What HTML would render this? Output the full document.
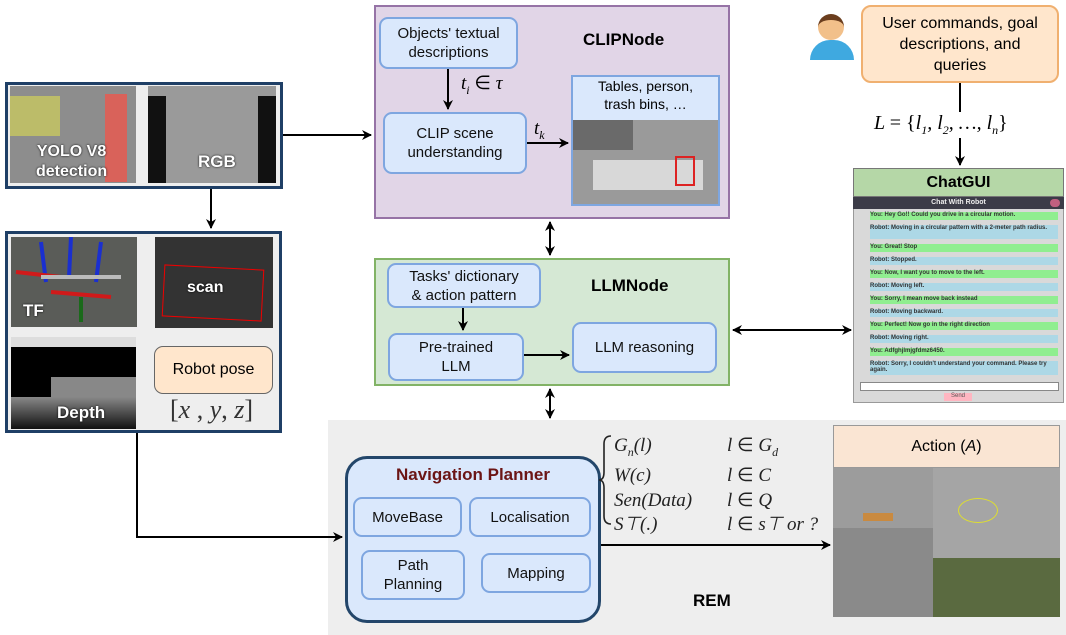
<!DOCTYPE html>
<html><head><meta charset="utf-8"><style>
body{margin:0;width:1066px;height:635px;position:relative;background:#fff;font-family:"Liberation Sans",sans-serif;overflow:hidden}
.a{position:absolute;box-sizing:border-box}
.bl{background:#dae8fc;border:2px solid #7ea6e0;border-radius:9px;display:flex;align-items:center;justify-content:center;text-align:center;font-size:15px;color:#111;line-height:19px}
.m{font-family:"Liberation Serif",serif;font-style:italic}
.lbl{color:#fff;font-weight:bold;font-size:16px;text-shadow:0 0 2px #000}
</style></head><body>
<div class="a" style="left:328px;top:420px;width:738px;height:215px;background:#eeeeee"></div>
<div class="a" style="left:374px;top:5px;width:356px;height:214px;background:#e1d5e7;border:2px solid #9673a6"></div>
<div class="a" style="left:583px;top:30px;font-weight:bold;font-size:17px">CLIPNode</div>
<div class="a bl" style="left:379px;top:17px;width:139px;height:52px">Objects' textual descriptions</div>
<div class="a m" style="left:461px;top:72px;font-size:19px">t<sub style="font-size:12px">i</sub> <span style="font-style:normal">∈</span> τ</div>
<div class="a bl" style="left:383px;top:112px;width:144px;height:62px">CLIP scene understanding</div>
<div class="a m" style="left:534px;top:118px;font-size:19px">t<sub style="font-size:12px">k</sub></div>
<div class="a" style="left:571px;top:75px;width:149px;height:131px;border:2px solid #7ea6e0;background:#dae8fc"></div>
<div class="a" style="left:571px;top:77px;width:149px;text-align:center;font-size:14px;line-height:18px">Tables, person,<br>trash bins, …</div>
<div class="a" style="left:573px;top:120px;width:145px;height:84px;background:#9a9a9a">
<div class="a" style="left:20px;top:40px;width:110px;height:30px;background:#d8d8d8"></div>
<div class="a" style="left:102px;top:36px;width:20px;height:30px;border:2px solid #d22"></div>
<div class="a" style="left:0;top:0;width:60px;height:30px;background:#6a6a6a"></div></div>
<div class="a" style="left:374px;top:258px;width:356px;height:128px;background:#d5e8d4;border:2px solid #82b366"></div>
<div class="a" style="left:591px;top:276px;font-weight:bold;font-size:17px">LLMNode</div>
<div class="a bl" style="left:387px;top:263px;width:154px;height:45px">Tasks' dictionary<br>&amp; action pattern</div>
<div class="a bl" style="left:388px;top:333px;width:136px;height:48px">Pre-trained<br>LLM</div>
<div class="a bl" style="left:572px;top:322px;width:145px;height:51px">LLM reasoning</div>
<div class="a" style="left:818px;top:14px;width:26px;height:26px;border-radius:50%;background:#f2c08a;border-top:6px solid #6b3e1e"></div>
<div class="a" style="left:810px;top:40px;width:44px;height:20px;border-radius:20px 20px 0 0;background:#3fa9e0"></div>
<div class="a" style="left:861px;top:5px;width:198px;height:78px;background:#ffe6cc;border:2px solid #f0b070;border-radius:10px;display:flex;align-items:center;justify-content:center;text-align:center;font-size:16px;line-height:21px;padding:0 12px">User commands, goal descriptions, and queries</div>
<div class="a m" style="left:874px;top:112px;font-size:20px"><span style="font-style:italic">L</span> <span style="font-style:normal">=</span> <span style="font-style:normal">{</span>l<sub style="font-size:12px">1</sub>, l<sub style="font-size:12px">2</sub>, …, l<sub style="font-size:12px">n</sub><span style="font-style:normal">}</span></div>
<div class="a" style="left:853px;top:168px;width:211px;height:235px;background:#d9d9d9;border:1px solid #999"></div>
<div class="a" style="left:853px;top:168px;width:211px;height:29px;background:#b5d7a7;border:1px solid #777;text-align:center;font-weight:bold;font-size:16px;line-height:28px">ChatGUI</div>
<div class="a" style="left:853px;top:197px;width:211px;height:12px;background:#3c3c48;color:#eee;font-size:7px;text-align:center;line-height:12px;font-weight:bold">Chat With Robot</div>
<div class="a" style="left:1050px;top:199px;width:10px;height:8px;border-radius:4px;background:#c06080"></div>
<div class="a" style="left:860px;top:212px;width:198px;font-size:6px;font-weight:bold;color:#333">
<div style="background:#90ee90;margin:0 0 5px 10px;height:8px">You: Hey Go!! Could you drive in a circular motion.</div>
<div style="background:#add8e6;margin:0 0 5px 10px;height:14px">Robot: Moving in a circular pattern with a 2-meter path radius.</div>
<div style="background:#90ee90;margin:0 0 5px 10px;height:8px">You: Great! Stop</div>
<div style="background:#add8e6;margin:0 0 5px 10px;height:8px">Robot: Stopped.</div>
<div style="background:#90ee90;margin:0 0 5px 10px;height:8px">You: Now, I want you to move to the left.</div>
<div style="background:#add8e6;margin:0 0 5px 10px;height:8px">Robot: Moving left.</div>
<div style="background:#90ee90;margin:0 0 5px 10px;height:8px">You: Sorry, I mean move back instead</div>
<div style="background:#add8e6;margin:0 0 5px 10px;height:8px">Robot: Moving backward.</div>
<div style="background:#90ee90;margin:0 0 5px 10px;height:8px">You: Perfect! Now go in the right direction</div>
<div style="background:#add8e6;margin:0 0 5px 10px;height:8px">Robot: Moving right.</div>
<div style="background:#90ee90;margin:0 0 5px 10px;height:8px">You: Adfghjlmjgfdmz6450.</div>
<div style="background:#add8e6;margin:0 0 5px 10px;height:14px">Robot: Sorry, I couldn't understand your command. Please try again.</div></div>
<div class="a" style="left:860px;top:382px;width:199px;height:9px;background:#fff;border:1px solid #888"></div>
<div class="a" style="left:944px;top:393px;width:28px;height:8px;background:#ffb6c1;font-size:6px;text-align:center;color:#555">Send</div>
<div class="a" style="left:5px;top:82px;width:278px;height:107px;border:3px solid #1f3f66;background:#eee"></div>
<div class="a" style="left:10px;top:86px;width:126px;height:97px;background:#8d8d8d">
<div class="a" style="left:0;top:10px;width:50px;height:40px;background:#c8c860;opacity:.8"></div>
<div class="a" style="left:95px;top:8px;width:22px;height:88px;background:#d9625a"></div>
<div class="a lbl" style="left:26px;top:56px;text-align:center;line-height:20px">YOLO V8<br>detection</div></div>
<div class="a" style="left:148px;top:86px;width:128px;height:97px;background:#9a9a9a">
<div class="a" style="left:0;top:10px;width:18px;height:87px;background:#111"></div>
<div class="a" style="left:110px;top:10px;width:18px;height:87px;background:#111"></div>
<div class="a lbl" style="left:50px;top:66px;font-size:17px">RGB</div></div>
<div class="a" style="left:5px;top:231px;width:277px;height:202px;border:3px solid #1f3f66;background:#eee"></div>
<div class="a" style="left:11px;top:237px;width:126px;height:90px;background:#5a5c58">
<svg width="126" height="90" style="position:absolute"><g stroke-width="4"><line x1="30" y1="5" x2="35" y2="45" stroke="#1a2fd0"/><line x1="60" y1="0" x2="58" y2="40" stroke="#1a2fd0"/><line x1="90" y1="5" x2="85" y2="45" stroke="#1a2fd0"/><line x1="5" y1="35" x2="50" y2="40" stroke="#d01a1a"/><line x1="40" y1="55" x2="100" y2="60" stroke="#d01a1a"/><line x1="70" y1="60" x2="70" y2="85" stroke="#1a6a1a"/><line x1="30" y1="40" x2="110" y2="40" stroke="#bbb"/></g></svg>
<div class="a lbl" style="left:12px;top:64px;font-size:17px">TF</div></div>
<div class="a" style="left:155px;top:237px;width:118px;height:91px;background:#333">
<div class="a" style="left:8px;top:30px;width:100px;height:52px;border:1px solid #e00;transform:rotate(3deg)"></div>
<div class="a lbl" style="left:32px;top:42px;font-size:16px">scan</div></div>
<div class="a" style="left:11px;top:337px;width:125px;height:92px;background:#000;border-top:10px solid #ddd">
<div class="a" style="left:40px;top:30px;width:85px;height:20px;background:#888"></div>
<div class="a" style="left:0;top:50px;width:125px;height:32px;background:linear-gradient(#888,#111)"></div>
<div class="a lbl" style="left:46px;top:56px;font-size:17px">Depth</div></div>
<div class="a" style="left:154px;top:346px;width:119px;height:48px;background:#ffe6cc;border:1px solid #666;border-radius:9px;display:flex;align-items:center;justify-content:center;font-size:16px">Robot pose</div>
<div class="a m" style="left:170px;top:395px;font-size:26px;color:#333"><span style="font-style:normal">[</span>x <span style="font-style:normal">,</span> y<span style="font-style:normal">,</span> z<span style="font-style:normal">]</span></div>
<div class="a" style="left:345px;top:456px;width:256px;height:167px;background:#dae8fc;border:3px solid #23466a;border-radius:22px"></div>
<div class="a" style="left:345px;top:465px;width:256px;text-align:center;font-weight:bold;font-size:17px;color:#6b1515">Navigation Planner</div>
<div class="a bl" style="left:353px;top:497px;width:109px;height:40px">MoveBase</div>
<div class="a bl" style="left:469px;top:497px;width:122px;height:40px">Localisation</div>
<div class="a bl" style="left:361px;top:550px;width:104px;height:50px">Path<br>Planning</div>
<div class="a bl" style="left:481px;top:553px;width:110px;height:40px">Mapping</div>
<svg class="a" style="left:598px;top:434px" width="16" height="92"><path d="M13,2 Q6,2 6,10 L6,38 Q6,46 1,46 Q6,46 6,54 L6,82 Q6,90 13,90" stroke="#222" stroke-width="1.6" fill="none"/></svg>
<div class="a m" style="left:614px;top:434px;font-size:19px;line-height:24.5px;color:#222">G<sub style="font-size:12px">n</sub>(l)<br>W(c)<br>Sen(Data)<br>S⊤(.)</div>
<div class="a m" style="left:727px;top:434px;font-size:19px;line-height:24.5px;color:#222">l <span style="font-style:normal">∈</span> G<sub style="font-size:12px">d</sub><br>l <span style="font-style:normal">∈</span> C<br>l <span style="font-style:normal">∈</span> Q<br>l <span style="font-style:normal">∈</span> s⊤ or ?</div>
<div class="a" style="left:693px;top:591px;font-weight:bold;font-size:17px">REM</div>
<div class="a" style="left:833px;top:425px;width:227px;height:43px;background:#fae5d3;border:1px solid #999;display:flex;align-items:center;justify-content:center;font-size:16px">Action (<i>A</i>)</div>
<div class="a" style="left:833px;top:468px;width:227px;height:149px;background:#8a8a8a">
<div class="a" style="left:0;top:0;width:100px;height:60px;background:#9c9c9c"></div>
<div class="a" style="left:100px;top:0;width:127px;height:90px;background:#a5a5a5"></div>
<div class="a" style="left:100px;top:90px;width:127px;height:59px;background:#5a6a40"></div>
<div class="a" style="left:30px;top:45px;width:30px;height:8px;background:#c98a40"></div>
<div class="a" style="left:125px;top:30px;width:40px;height:25px;border:1px solid #dd3;border-radius:50%"></div></div>
<svg class="a" style="left:0;top:0" width="1066" height="635">
<defs><marker id="h" markerWidth="10" markerHeight="10" refX="9" refY="5" orient="auto-start-reverse" markerUnits="userSpaceOnUse"><path d="M0,0 L10,5 L0,10 L3,5z" fill="#000"/></marker></defs>
<g stroke="#000" stroke-width="2" fill="none">
<line x1="283" y1="135" x2="371" y2="135" marker-end="url(#h)"/>
<line x1="211" y1="189" x2="211" y2="228" marker-end="url(#h)"/>
<polyline points="137,433 137,537 342,537" marker-end="url(#h)"/>
<line x1="550" y1="222" x2="550" y2="255" marker-start="url(#h)" marker-end="url(#h)"/>
<line x1="550" y1="389" x2="550" y2="418" marker-start="url(#h)" marker-end="url(#h)"/>
<line x1="733" y1="330" x2="851" y2="330" marker-start="url(#h)" marker-end="url(#h)"/>
<line x1="960" y1="83" x2="960" y2="112"/>
<line x1="960" y1="138" x2="960" y2="165" marker-end="url(#h)"/>
<line x1="448" y1="69" x2="448" y2="109" marker-end="url(#h)"/>
<line x1="527" y1="143" x2="568" y2="143" marker-end="url(#h)"/>
<line x1="463" y1="308" x2="463" y2="330" marker-end="url(#h)"/>
<line x1="524" y1="355" x2="569" y2="355" marker-end="url(#h)"/>
<line x1="601" y1="545" x2="830" y2="545" marker-end="url(#h)"/>
</g></svg>
</body></html>
